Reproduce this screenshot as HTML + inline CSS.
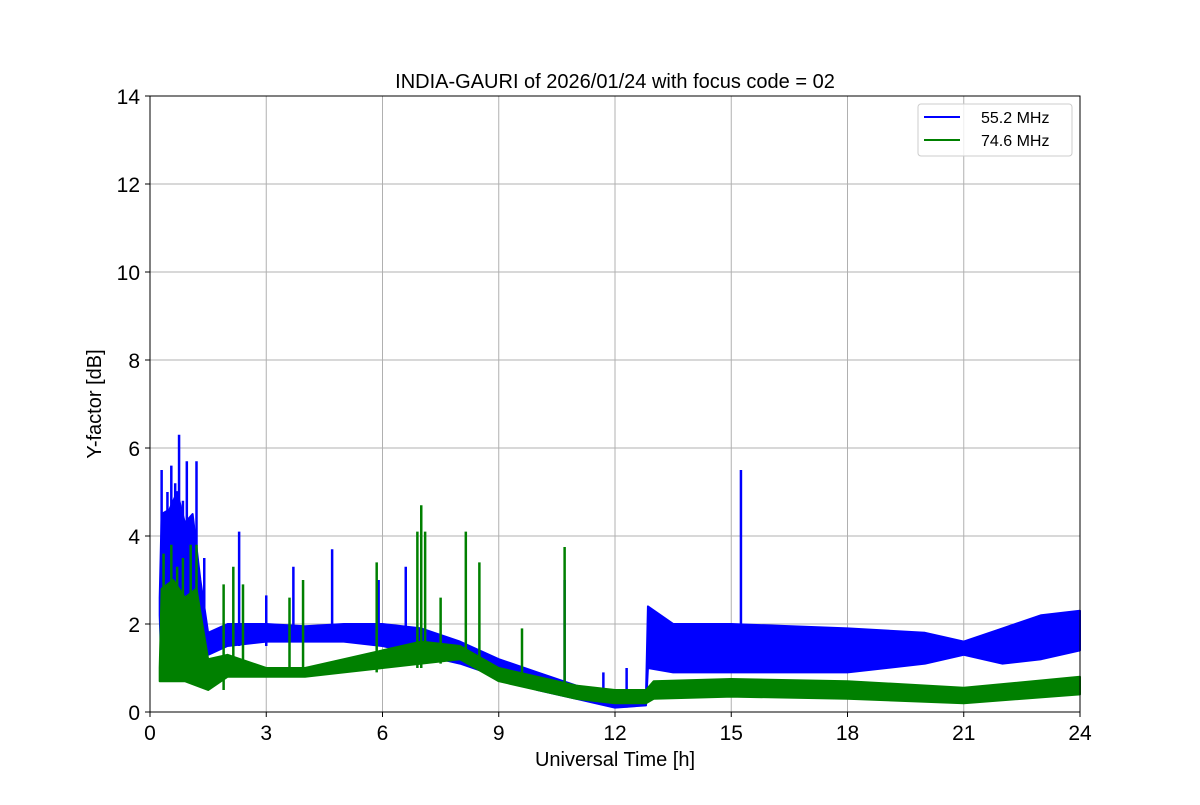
<!DOCTYPE html>
<html><head><meta charset="utf-8"><style>
body{margin:0;background:#fff;}
svg text{font-family:"Liberation Sans","DejaVu Sans",sans-serif;}
</style></head><body>
<svg id="chart" width="1200" height="800" xmlns="http://www.w3.org/2000/svg"></svg>
<script>
const xTicks=[0,3,6,9,12,15,18,21,24];
const yTicks=[0,2,4,6,8,10,12,14];
const blueT=[0.25,0.3,0.5,0.7,0.9,1.1,1.3,1.5,2,3,4,5,6,7,8,9,10,11,12,12.8,12.85,13.5,15,18,20,21,22,23,24];
const blueLo=[2.2,0.8,0.8,0.8,0.9,1.0,1.2,1.3,1.5,1.6,1.6,1.6,1.5,1.3,1.1,0.8,0.5,0.3,0.1,0.15,1.0,0.9,0.9,0.9,1.1,1.3,1.1,1.2,1.4];
const blueHi=[2.6,4.5,4.6,5.0,4.3,4.5,3.0,1.8,2.0,2.0,1.95,2.0,2.0,1.9,1.6,1.2,0.9,0.6,0.4,0.4,2.4,2.0,2.0,1.9,1.8,1.6,1.9,2.2,2.3];
const greenT=[0.25,0.3,0.6,0.9,1.2,1.5,2,3,4,5,6,7,8,9,10,11,12,12.8,13,15,18,21,24];
const greenLo=[0.7,0.7,0.7,0.7,0.6,0.5,0.8,0.8,0.8,0.9,1.0,1.1,1.2,0.7,0.5,0.3,0.2,0.2,0.3,0.35,0.3,0.2,0.4];
const greenHi=[1.0,2.8,3.0,2.6,2.8,1.2,1.3,1.0,1.0,1.2,1.4,1.6,1.5,1.0,0.8,0.6,0.5,0.5,0.7,0.75,0.7,0.55,0.8];
const blueSpikeT=[0.3,0.45,0.55,0.65,0.75,0.85,0.95,1.2,1.4,2.3,3.0,3.7,4.7,5.9,6.6,10.7,11.7,12.3,15.25];
const blueSpikeV=[5.5,5.0,5.6,5.2,6.3,4.8,5.7,5.7,3.5,4.1,2.65,3.3,3.7,3.0,3.3,3.0,0.9,1.0,5.5];
const greenSpikeT=[0.35,0.55,0.7,0.85,1.05,1.2,1.9,2.15,2.4,3.6,3.95,5.85,6.9,7.0,7.1,7.5,8.15,8.5,9.6,10.7];
const greenSpikeV=[3.6,3.8,3.3,3.5,3.8,3.8,2.9,3.3,2.9,2.6,3.0,3.4,4.1,4.7,4.1,2.6,4.1,3.4,1.9,3.75];

const L=150,R=1080,T=96,B=712;
const X=t=>L+(t/24)*(R-L);
const Y=v=>B-(v/14)*(B-T);
const NS="http://www.w3.org/2000/svg";
const svg=document.getElementById('chart');
function mk(tag,attrs,parent){const e=document.createElementNS(NS,tag);for(const k in attrs)e.setAttribute(k,attrs[k]);(parent||svg).appendChild(e);return e;}

xTicks.forEach(t=>{const g=mk('line',{x1:X(t),x2:X(t),y1:T,y2:B,stroke:'#b0b0b0','stroke-width':1});

});
yTicks.forEach(v=>{const g=mk('line',{x1:L,x2:R,y1:Y(v),y2:Y(v),stroke:'#b0b0b0','stroke-width':1});

});

function band(ts,lo,hi,color,name){
  let pts=ts.map((t,i)=>X(t)+','+Y(hi[i]));
  for(let i=ts.length-1;i>=0;i--)pts.push(X(ts[i])+','+Y(lo[i]));
  const p=mk('polygon',{points:pts.join(' '),fill:color,stroke:color,'stroke-width':2,'stroke-linejoin':'round'});
  
  
}
function spikes(st,sv,ts,lo,color,name){
  st.forEach((t,i)=>{
    let j=0;while(j<ts.length-1&&ts[j+1]<t)j++;
    const base=lo[j];
    const l=mk('line',{x1:X(t),x2:X(t),y1:Y(base),y2:Y(sv[i]),stroke:color,'stroke-width':2.5});
    
    
  });
}
band(blueT,blueLo,blueHi,'#0000ff','series-55-2-mhz');
spikes(blueSpikeT,blueSpikeV,blueT,blueLo,'#0000ff','spike-55-2-mhz');
band(greenT,greenLo,greenHi,'#008000','series-74-6-mhz');
spikes(greenSpikeT,greenSpikeV,greenT,greenLo,'#008000','spike-74-6-mhz');

const fr=mk('rect',{x:L,y:T,width:R-L,height:B-T,fill:'none',stroke:'#000','stroke-width':1});


xTicks.forEach(t=>{
  mk('line',{x1:X(t),x2:X(t),y1:B,y2:B+5,stroke:'#000'});
  const tx=mk('text',{x:X(t),y:B+28,'text-anchor':'middle','font-size':21});tx.textContent=t;
  
  
});
yTicks.forEach(v=>{
  mk('line',{x1:L-5,x2:L,y1:Y(v),y2:Y(v),stroke:'#000'});
  const tx=mk('text',{x:L-10,y:Y(v)+8,'text-anchor':'end','font-size':21});tx.textContent=v;
  
  
});
</script>
<svg style="position:absolute;left:0;top:0" width="1200" height="800" xmlns="http://www.w3.org/2000/svg">
<text x="615" y="88" text-anchor="middle" font-size="20">INDIA-GAURI of 2026/01/24 with focus code = 02</text>
<text x="615" y="766" text-anchor="middle" font-size="20">Universal Time [h]</text>
<text x="101" y="404" text-anchor="middle" font-size="20" transform="rotate(-90 101 404)">Y-factor [dB]</text>
<g>
<rect x="918" y="104" width="154" height="52" rx="3" fill="#fff" fill-opacity="0.8" stroke="#ccc"/>
<g><line x1="924" x2="960" y1="117" y2="117" stroke="#0000ff" stroke-width="2"/><text x="981" y="123" font-size="16">55.2 MHz</text></g>
<g><line x1="924" x2="960" y1="140" y2="140" stroke="#008000" stroke-width="2"/><text x="981" y="146" font-size="16">74.6 MHz</text></g>
</g>
</svg>
</body></html>
